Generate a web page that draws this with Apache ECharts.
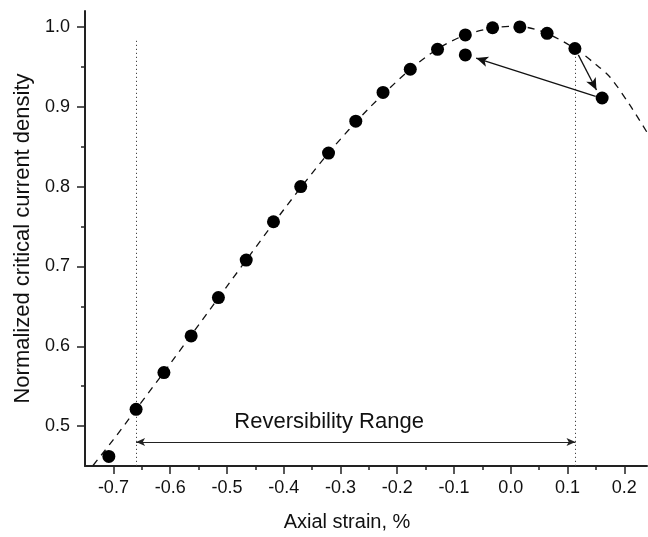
<!DOCTYPE html>
<html>
<head>
<meta charset="utf-8">
<script src="https://cdn.jsdelivr.net/npm/echarts@6/dist/echarts.min.js"></script>
<style>
html,body{margin:0;padding:0;background:#fff;}
#chart{width:648px;height:537px;}
</style>
</head>
<body>
<div id="chart"></div>
<script>
// Measured data points (axial strain %, normalized Jc)
const strainX = [-0.708, -0.660, -0.611, -0.563, -0.515, -0.466, -0.418, -0.370, -0.321, -0.273,
                 -0.225, -0.177, -0.129, -0.080, -0.032, 0.016, 0.064, 0.113, 0.161, -0.080];
const jcY     = [0.462, 0.521, 0.567, 0.613, 0.661, 0.708, 0.756, 0.800, 0.842, 0.882,
                 0.918, 0.947, 0.972, 0.990, 0.999, 1.000, 0.992, 0.973, 0.911, 0.965];

// Dashed fit curve
const fitX = [-0.75, -0.70, -0.66, -0.60, -0.50, -0.40, -0.32, -0.25, -0.18, -0.13,
              -0.08, -0.03, 0.01, 0.06, 0.113, 0.15, 0.175, 0.21, 0.24];
const fitY = [0.438, 0.483, 0.521, 0.578, 0.675, 0.771, 0.843, 0.898, 0.945, 0.972,
              0.990, 0.999, 1.001, 0.993, 0.973, 0.953, 0.937, 0.902, 0.868];

// Axis ticks
const xTicks = [-0.7, -0.6, -0.5, -0.4, -0.3, -0.2, -0.1, 0.0, 0.1, 0.2];
const xMinor = [-0.65, -0.55, -0.45, -0.35, -0.25, -0.15, -0.05, 0.05, 0.15];
const yTicks = [0.5, 0.6, 0.7, 0.8, 0.9, 1.0];
const yMinor = [0.55, 0.65, 0.75, 0.85, 0.95];

// Annotations
const rangeBounds = [-0.66, 0.114];
const guideTops = [0.983, 0.966];
const rangeArrowY = 0.480;
const rangeLabel = 'Reversibility Range';
const rangeLabelPos = [-0.320, 0.505];
const loadArrow = [[0.119, 0.965], [0.151, 0.921]];
const returnArrow = [[0.1495, 0.913], [-0.061, 0.961]];

const FONT = 'Liberation Sans, Arial, sans-serif';
const AXIS_MIN_X = -0.75, AXIS_MAX_X = 0.24, AXIS_MIN_Y = 0.45, AXIS_MAX_Y = 1.02;

const chart = echarts.init(document.getElementById('chart'), null, {renderer: 'canvas'});

const fitData = fitX.map((x, i) => [x, fitY[i]]);
const ptData = strainX.map((x, i) => [x, jcY[i]]);

const dotted = {type: [1.2, 2.8], width: 1, color: '#444'};

const option = {
  animation: false,
  backgroundColor: '#fff',
  grid: {left: 85, right: 1, top: 11, bottom: 66, containLabel: false},
  xAxis: [
    {
      type: 'value', min: AXIS_MIN_X, max: AXIS_MAX_X, position: 'bottom',
      name: 'Axial strain, %', nameLocation: 'middle', nameGap: 46,
      nameTextStyle: {fontSize: 20, color: '#111', fontFamily: FONT, padding: [0, 38, 0, 0]},
      axisLine: {show: true, onZero: false, lineStyle: {color: '#222', width: 2}},
      axisTick: {show: true, customValues: xTicks, length: 8, inside: false, lineStyle: {color: '#222', width: 1.5}},
      axisLabel: {show: true, customValues: xTicks, margin: 13, fontSize: 18, color: '#111', fontFamily: FONT,
                  formatter: v => v.toFixed(1)},
      splitLine: {show: false}
    },
    {
      type: 'value', min: AXIS_MIN_X, max: AXIS_MAX_X, position: 'bottom',
      axisLine: {show: false, onZero: false},
      axisTick: {show: true, customValues: xMinor, length: 4, inside: false, lineStyle: {color: '#222', width: 1.5}},
      axisLabel: {show: false},
      splitLine: {show: false}
    }
  ],
  yAxis: [
    {
      type: 'value', min: AXIS_MIN_Y, max: AXIS_MAX_Y, position: 'left',
      name: 'Normalized critical current density', nameLocation: 'middle', nameGap: 43, nameRotate: 90,
      nameTextStyle: {fontSize: 22, color: '#111', fontFamily: FONT},
      axisLine: {show: true, onZero: false, lineStyle: {color: '#222', width: 2}},
      axisTick: {show: true, customValues: yTicks, length: 8, inside: false, lineStyle: {color: '#222', width: 1.5}},
      axisLabel: {show: true, customValues: yTicks, margin: 15, fontSize: 18, color: '#111', fontFamily: FONT,
                  formatter: v => v.toFixed(1)},
      splitLine: {show: false}
    },
    {
      type: 'value', min: AXIS_MIN_Y, max: AXIS_MAX_Y, position: 'left',
      axisLine: {show: false, onZero: false},
      axisTick: {show: true, customValues: yMinor, length: 4, inside: false, lineStyle: {color: '#222', width: 1.5}},
      axisLabel: {show: false},
      splitLine: {show: false}
    }
  ],
  series: [
    {
      name: 'fit', type: 'line', xAxisIndex: 0, yAxisIndex: 0,
      data: fitData, smooth: 0.3, symbol: 'none', clip: true,
      lineStyle: {color: '#111', width: 1.3, type: [7, 6]},
      silent: true, z: 2,
      markLine: {
        silent: true, animation: false,
        label: {show: false},
        symbol: ['none', 'none'],
        data: [
          [{coord: [rangeBounds[0], AXIS_MIN_Y], lineStyle: dotted}, {coord: [rangeBounds[0], guideTops[0]]}],
          [{coord: [rangeBounds[1], AXIS_MIN_Y], lineStyle: dotted}, {coord: [rangeBounds[1], guideTops[1]]}],
          [{coord: [rangeBounds[0], rangeArrowY], symbol: 'arrow', symbolSize: [6, 9],
            lineStyle: {type: 'solid', width: 1.2, color: '#222'}},
           {coord: [rangeBounds[1], rangeArrowY], symbol: 'arrow', symbolSize: [6, 9]}],
          [{coord: loadArrow[0], symbol: 'none', lineStyle: {type: 'solid', width: 1.3, color: '#111'}},
           {coord: loadArrow[1], symbol: 'arrow', symbolSize: [8, 12]}],
          [{coord: returnArrow[0], symbol: 'none', lineStyle: {type: 'solid', width: 1.3, color: '#111'}},
           {coord: returnArrow[1], symbol: 'arrow', symbolSize: [8, 12]}]
        ]
      },
      markPoint: {
        silent: true, animation: false,
        symbol: 'circle', symbolSize: 1,
        itemStyle: {color: 'rgba(0,0,0,0)'},
        label: {show: true, position: 'inside', formatter: rangeLabel, fontSize: 22, color: '#111', fontFamily: FONT},
        data: [{coord: rangeLabelPos}]
      }
    },
    {
      name: 'Jc', type: 'scatter', xAxisIndex: 0, yAxisIndex: 0,
      data: ptData, symbol: 'circle', symbolSize: 13,
      itemStyle: {color: '#000', opacity: 1}, z: 5
    }
  ]
};
chart.setOption(option);
</script>
</body>
</html>
